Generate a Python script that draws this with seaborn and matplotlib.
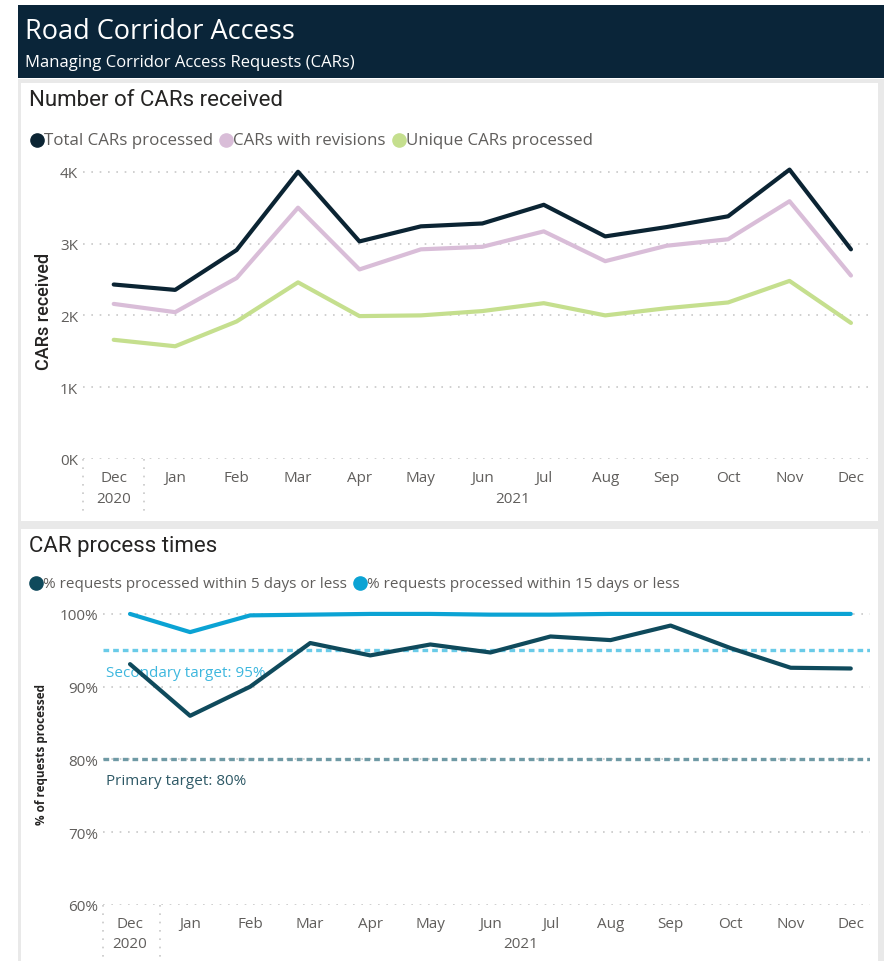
import numpy as np
import pandas as pd
import matplotlib
matplotlib.use("Agg")
import matplotlib.pyplot as plt
import matplotlib.transforms as mtransforms
from matplotlib.patches import Rectangle
from matplotlib.lines import Line2D
from matplotlib.ticker import FuncFormatter
import seaborn as sns

# ---- data ----
months = ["Dec", "Jan", "Feb", "Mar", "Apr", "May", "Jun",
          "Jul", "Aug", "Sep", "Oct", "Nov", "Dec"]
total_cars = [2430, 2355, 2910, 4000, 3030, 3240, 3280, 3540, 3100, 3230, 3380, 4030, 2920]
revised_cars = [2160, 2045, 2520, 3500, 2640, 2920, 2955, 3170, 2755, 2970, 3060, 3590, 2555]
unique_cars = [1660, 1570, 1915, 2460, 1990, 2000, 2060, 2170, 2000, 2100, 2180, 2480, 1895]
within_5 = [93.1, 86.0, 90.0, 96.0, 94.3, 95.8, 94.7, 96.9, 96.4, 98.4, 95.3, 92.6, 92.5]
within_15 = [100.0, 97.5, 99.8, 99.9, 100.0, 100.0, 99.9, 99.9, 100.0, 100.0, 100.0, 100.0, 100.0]
secondary_target = 95
primary_target = 80

cars_names = ["Total CARs processed", "CARs with revisions", "Unique CARs processed"]
cars_colors = ["#0B2433", "#D9BDD8", "#C5DF8E"]
pct_names = ["% requests processed within 5 days or less", "% requests processed within 15 days or less"]
pct_colors = ["#0F4A5C", "#0BA3D4"]

idx = np.arange(len(months))
cars = pd.DataFrame({
    "idx": np.tile(idx, 3),
    "value": total_cars + revised_cars + unique_cars,
    "series": np.repeat(cars_names, len(months)),
})
pct = pd.DataFrame({
    "idx": np.tile(idx, 2),
    "value": within_5 + within_15,
    "series": np.repeat(pct_names, len(months)),
})

sns.set_theme(style="white")
plt.rcParams["font.family"] = ["Open Sans", "DejaVu Sans"]

W, H = 884, 962
fig = plt.figure(figsize=(W / 100, H / 100), dpi=100)
fig.patch.set_facecolor("white")


def fx(x):
    return x / W


def fy(y):
    return 1 - y / H


def px_rect(x0, y0, x1, y1, **kw):
    fig.add_artist(Rectangle((fx(x0), fy(y1)), fx(x1) - fx(x0), fy(y0) - fy(y1),
                             transform=fig.transFigure, **kw))


GRAY = "#605E5C"
TITLE_FONT = ["Roboto", "DejaVu Sans"]
# card borders / header
px_rect(18, 80, 884, 962, facecolor="#E9E9E9", edgecolor="none", zorder=-3)
px_rect(21, 84, 878, 522, facecolor="white", edgecolor="none", zorder=-2)
px_rect(21, 530, 878, 962, facecolor="white", edgecolor="none", zorder=-2)
px_rect(18, 6, 884, 79, facecolor="#0A2539", edgecolor="none", zorder=-1)
fig.text(fx(25), fy(32), "Road Corridor Access", color="white", fontsize=19.5, va="center")
fig.text(fx(25), fy(63), "Managing Corridor Access Requests (CARs)", color="white",
         fontsize=12, va="center")

fig.text(fx(29), fy(101), "Number of CARs received", color="#252423", fontsize=16,
         va="center", family=TITLE_FONT)
fig.text(fx(29), fy(547), "CAR process times", color="#252423", fontsize=16,
         va="center", family=TITLE_FONT)


def legend_row(y, names, colors, x0, size):
    x = x0
    r = fig.canvas.get_renderer()
    for n, c in zip(names, colors):
        fig.add_artist(Line2D([fx(x)], [fy(y)], marker="o", markersize=9.5, color=c,
                              lw=0, transform=fig.transFigure))
        t = fig.text(fx(x + 7), fy(y), n, color=GRAY, fontsize=size, va="center")
        bb = t.get_window_extent(renderer=r)
        x = x + 7 + bb.width + 13


def style_axes(ax, y_top, y_bot):
    for s in ax.spines.values():
        s.set_visible(False)
    ax.grid(False)
    ax.tick_params(axis="both", length=0, colors=GRAY, labelsize=11)
    ax.set_xticks(idx)
    ax.set_xticklabels(months)
    for yv in ax.get_yticks():
        ax.axhline(yv, color="#C8C8C8", lw=1.2, ls=(0, (1, 4)), zorder=0)
    ax.set_xlabel("")
    trans = mtransforms.blended_transform_factory(ax.transData, ax.transAxes)
    for xv in [ax.get_xlim()[0], 0.5]:
        ax.plot([xv, xv], [0, y_bot], transform=trans, clip_on=False,
                color="#C8C8C8", lw=1.2, ls=(0, (1, 4)))
    ax.text(0, y_top, "2020", transform=trans, ha="center", va="center",
            color=GRAY, fontsize=11)
    ax.text(6.5, y_top, "2021", transform=trans, ha="center", va="center",
            color=GRAY, fontsize=11)


# ---- chart 1 ----
ax1 = fig.add_axes([fx(83), fy(460), fx(870) - fx(83), fy(162) - fy(460)])
ax1.set_facecolor("none")
sns.lineplot(data=cars, x="idx", y="value", hue="series", palette=cars_colors,
             hue_order=cars_names, lw=3, ax=ax1, legend=False)
ax1.set_xlim(-0.5, 12.31)
ax1.set_ylim(0, 4150)
ax1.set_yticks([0, 1000, 2000, 3000, 4000])
ax1.yaxis.set_major_formatter(FuncFormatter(lambda v, p: f"{int(v / 1000)}K"))
ax1.tick_params(axis="x", pad=8)
style_axes(ax1, -0.132, -0.175)
ax1.set_ylabel("CARs received", color="#252423", fontsize=13, labelpad=5,
               family=TITLE_FONT, fontweight="medium")
legend_row(141, cars_names, cars_colors, 37, 12.2)

# ---- chart 2 ----
ax2 = fig.add_axes([fx(103), fy(906), fx(870) - fx(103), fy(604) - fy(906)])
ax2.set_facecolor("none")
ax2.axhline(secondary_target, color="#6ACBE8", lw=2.4, ls=(0, (1.7, 1.2)), zorder=1)
ax2.axhline(primary_target, color="#6F9AA5", lw=2.4, ls=(0, (1.7, 1.2)), zorder=1)
sns.lineplot(data=pct, x="idx", y="value", hue="series", palette=pct_colors,
             hue_order=pct_names, lw=3, ax=ax2, legend=False, zorder=3)
ax2.set_xlim(-0.45, 12.32)
ax2.set_ylim(60, 101.5)
ax2.set_yticks([60, 70, 80, 90, 100])
ax2.yaxis.set_major_formatter(FuncFormatter(lambda v, p: f"{int(v)}%"))
ax2.tick_params(axis="x", pad=8)
style_axes(ax2, -0.127, -0.175)
ax2.set_ylabel("% of requests processed", color="#252423", fontsize=8.5, labelpad=8,
               fontweight="bold")
ttrans = mtransforms.blended_transform_factory(ax2.transAxes, ax2.transData)
ax2.text(0.004, secondary_target - 2.0, f"Secondary target: {secondary_target}%",
         color="#3DB7DE", fontsize=11, va="top", zorder=2, transform=ttrans)
ax2.text(0.004, primary_target - 1.9, f"Primary target: {primary_target}%",
         color="#2E5966", fontsize=11, va="top", zorder=2, transform=ttrans)
legend_row(584, pct_names, pct_colors, 36, 11.0)

fig.savefig("out.png", dpi=100, facecolor="white")
